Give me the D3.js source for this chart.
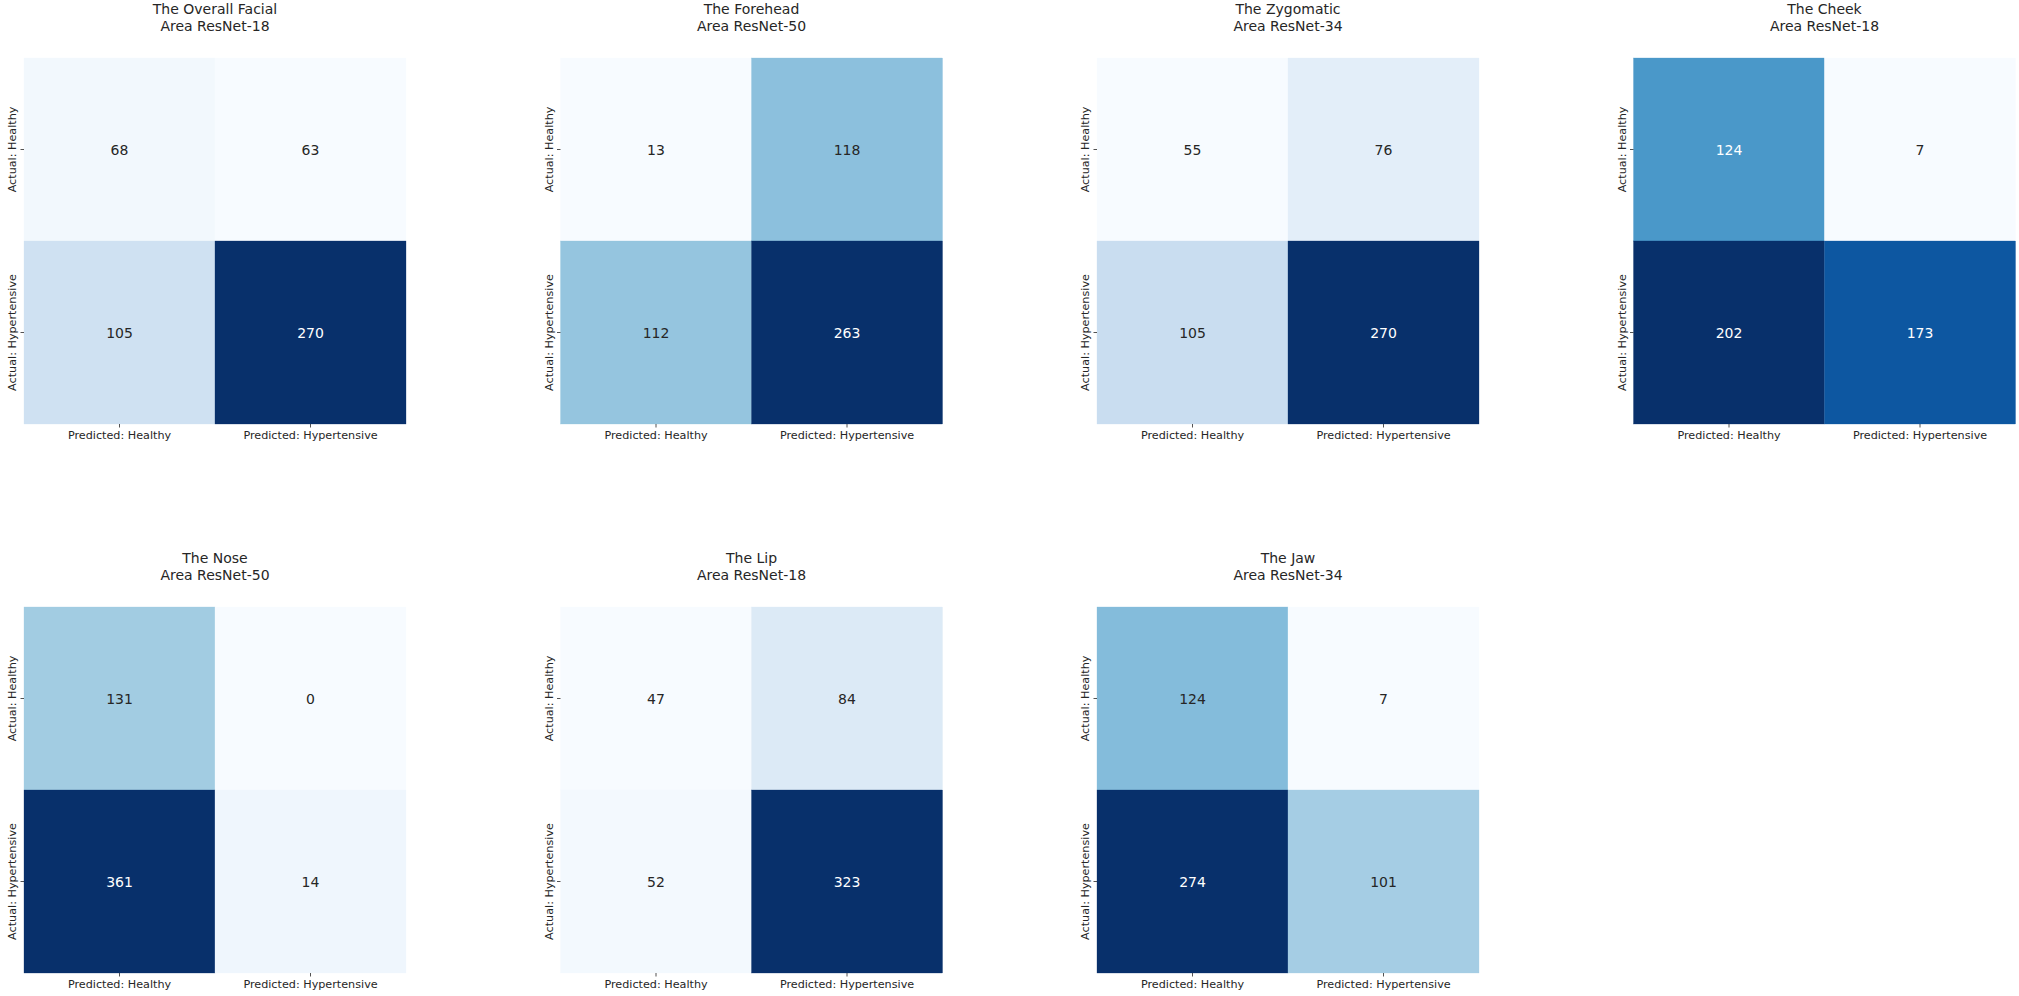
<!DOCTYPE html>
<html>
<head>
<meta charset="utf-8">
<script src="https://cdn.jsdelivr.net/npm/d3@7"></script>
<style>
  html, body { margin: 0; padding: 0; background: #fff; }
  text { font-family: "DejaVu Sans", sans-serif; }
</style>
</head>
<body>
<svg id="chart" width="2019" height="996"></svg>
<script>
// ---- data ----
const panelTitles = ["The Overall Facial", "The Forehead", "The Zygomatic", "The Cheek", "The Nose", "The Lip", "The Jaw"];
const panelModels = ["Area ResNet-18", "Area ResNet-50", "Area ResNet-34", "Area ResNet-18", "Area ResNet-50", "Area ResNet-18", "Area ResNet-34"];
// [[actual healthy: pred healthy, pred hyper], [actual hyper: pred healthy, pred hyper]]
const panelValues = [
  [[68, 63], [105, 270]],
  [[13, 118], [112, 263]],
  [[55, 76], [105, 270]],
  [[124, 7], [202, 173]],
  [[131, 0], [361, 14]],
  [[47, 84], [52, 323]],
  [[124, 7], [274, 101]]
];
const xLabels = ["Predicted: Healthy", "Predicted: Hypertensive"];
const yLabels = ["Actual: Healthy", "Actual: Hypertensive"];
const bluesStops = ["#f7fbff", "#deebf7", "#c6dbef", "#9ecae1", "#6baed6", "#4292c6", "#2171b5", "#08519c", "#08306b"];

// ---- layout ----
const svg = d3.select("#chart");
const colLeft = [24, 560.5, 1097, 1633.5];
const rowTop = [58, 607];
const W = 382, H = 366;

function lum(c) {
  const rgb = d3.rgb(c);
  const f = v => { v /= 255; return v <= 0.03928 ? v / 12.92 : Math.pow((v + 0.055) / 1.055, 2.4); };
  return 0.2126 * f(rgb.r) + 0.7152 * f(rgb.g) + 0.0722 * f(rgb.b);
}

panelValues.forEach((mat, i) => {
  const col = i % 4, row = Math.floor(i / 4);
  const g = svg.append("g").attr("transform", `translate(${colLeft[col]},${rowTop[row]})`);
  const x = d3.scaleBand().domain(xLabels).range([0, W]);
  const y = d3.scaleBand().domain(yLabels).range([0, H]);
  const flat = mat.flat();
  const vmin = d3.min(flat), vmax = d3.max(flat);
  const norm = d3.scaleLinear().domain([vmin, vmax]).range([0, 1]).clamp(true);
  const cmap = d3.scaleLinear().domain(d3.range(9).map(k => k / 8)).range(bluesStops).interpolate(d3.interpolateRgb);

  const cells = [];
  mat.forEach((r, ri) => r.forEach((v, ci) => cells.push({ v, yl: yLabels[ri], xl: xLabels[ci] })));

  g.selectAll("rect.cell").data(cells).join("rect")
    .attr("class", "cell")
    .attr("x", d => x(d.xl)).attr("y", d => y(d.yl))
    .attr("width", x.bandwidth()).attr("height", y.bandwidth())
    .attr("fill", d => cmap(norm(d.v)))
    .attr("stroke", d => cmap(norm(d.v))).attr("stroke-width", 0.3);

  g.selectAll("text.val").data(cells).join("text")
    .attr("class", "val")
    .attr("x", d => x(d.xl) + x.bandwidth() / 2)
    .attr("y", d => y(d.yl) + y.bandwidth() / 2)
    .attr("text-anchor", "middle").attr("dominant-baseline", "central")
    .attr("font-size", 14)
    .attr("fill", d => lum(cmap(norm(d.v))) > 0.408 ? "#262626" : "#ffffff")
    .text(d => d.v);

  // x axis
  const xa = g.append("g").attr("transform", `translate(0,${H})`)
    .call(d3.axisBottom(x).tickSize(3.5).tickPadding(4));
  xa.select(".domain").remove();
  xa.selectAll("line").attr("stroke", "#262626").attr("stroke-width", 0.8);
  xa.selectAll("text").attr("font-size", 11.2).attr("fill", "#262626").attr("font-family", "DejaVu Sans, sans-serif");

  // y axis
  const ya = g.append("g").call(d3.axisLeft(y).tickSize(3.5).tickPadding(4));
  ya.select(".domain").remove();
  ya.selectAll("line").attr("stroke", "#262626").attr("stroke-width", 0.8);
  ya.selectAll("text")
    .attr("font-size", 11.2).attr("fill", "#262626").attr("font-family", "DejaVu Sans, sans-serif")
    .attr("text-anchor", "middle").attr("dy", null)
    .attr("transform", "rotate(-90)")
    .attr("x", 0).attr("y", 0)
    .attr("transform", d => `translate(-11.5,0) rotate(-90)`)
    .attr("dominant-baseline", "central");

  // title
  const t = g.append("text").attr("text-anchor", "middle").attr("font-size", 14).attr("fill", "#262626");
  t.append("tspan").attr("x", W / 2).attr("y", -44).text(panelTitles[i]);
  t.append("tspan").attr("x", W / 2).attr("y", -27).text(panelModels[i]);
});
</script>
</body>
</html>
